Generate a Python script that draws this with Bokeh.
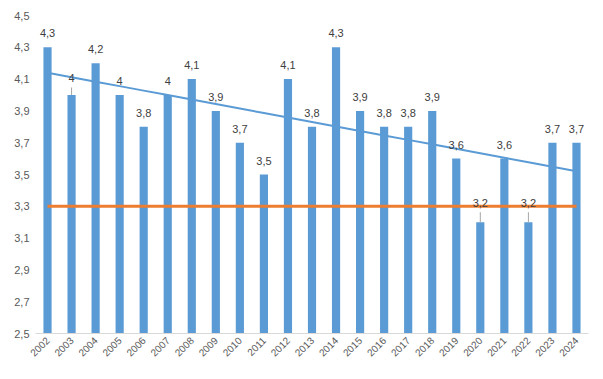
import numpy as np
from bokeh.plotting import figure
from bokeh.models import FactorRange, Range1d, FixedTicker, ColumnDataSource
from bokeh.core.properties import value
from bokeh.embed import file_html
from bokeh.resources import INLINE

# ---- data ----
years = ["2002", "2003", "2004", "2005", "2006", "2007", "2008", "2009", "2010",
         "2011", "2012", "2013", "2014", "2015", "2016", "2017", "2018", "2019",
         "2020", "2021", "2022", "2023", "2024"]
values = [4.3, 4.0, 4.2, 4.0, 3.8, 4.0, 4.1, 3.9, 3.7, 3.5, 4.1, 3.8, 4.3,
          3.9, 3.8, 3.8, 3.9, 3.6, 3.2, 3.6, 3.2, 3.7, 3.7]
reference_level = 3.3
y_ticks = [2.5, 2.7, 2.9, 3.1, 3.3, 3.5, 3.7, 3.9, 4.1, 4.3, 4.5]
y_tick_labels = ["2,5", "2,7", "2,9", "3,1", "3,3", "3,5", "3,7", "3,9", "4,1", "4,3", "4,5"]

# linear trend of the series
idx = np.arange(len(values))
slope, intercept = np.polyfit(idx, values, 1)
trend = list(intercept + slope * idx)

labels = [f"{v:g}".replace(".", ",") for v in values]

# label nudges (pixels) for labels moved away from their bars
nudged = {"2003": 17, "2020": 19, "2022": 19}
label_offsets = [-nudged.get(y, 14) for y in years]

BAR = "#5B9BD5"
ORANGE = "#ED7D31"
FONT = "Liberation Sans"

frame_h = 318
ymin, ymax = 2.5, 4.5
ppu = frame_h / (ymax - ymin)

p = figure(x_range=FactorRange(*years), y_range=Range1d(ymin, ymax),
           width=603, height=379,
           output_backend="svg", toolbar_location=None,
           min_border_left=35, min_border_right=15, min_border_top=15,
           min_border_bottom=46)
p.outline_line_color = None
p.xgrid.grid_line_color = None
p.ygrid.grid_line_color = None

p.vbar(x=years, top=values, bottom=ymin, width=0.34, color=BAR, line_color=None)

# leader lines for moved labels
lead_x, lead_y0, lead_y1 = [], [], []
leader_px = {"2003": 7.5, "2020": 10, "2022": 10}
for y, v in zip(years, values):
    if y in leader_px:
        lead_x.append(y)
        lead_y0.append(v)
        lead_y1.append(v + leader_px[y] / ppu)
p.segment(x0=lead_x, y0=lead_y0, x1=lead_x, y1=lead_y1, line_color="#A6A6A6", line_width=1)

p.line(x=years, y=[reference_level] * len(years), line_color=ORANGE, line_width=3)
p.line(x=years, y=trend, line_color=BAR, line_width=2)

src = ColumnDataSource(dict(x=years, y=values, t=labels, off=label_offsets))
p.text(x="x", y="y", text="t", source=src, y_offset="off",
       text_align="center", text_baseline="middle",
       text_font=value(FONT), text_font_size="11px", text_color="#404040")

# axes
p.yaxis.ticker = FixedTicker(ticks=y_ticks)
p.yaxis.major_label_overrides = {t: l for t, l in zip(y_ticks, y_tick_labels)}
p.yaxis.axis_line_color = None
p.yaxis.major_tick_line_color = None
p.yaxis.minor_tick_line_color = None
p.yaxis.major_tick_out = 0
p.yaxis.major_label_standoff = 6
p.yaxis.major_label_text_font = FONT
p.yaxis.major_label_text_font_size = "11px"
p.yaxis.major_label_text_color = "#595959"

p.xaxis.axis_line_color = "#D9D9D9"
p.xaxis.axis_line_width = 1
p.xaxis.major_tick_line_color = None
p.xaxis.major_tick_out = 0
p.xaxis.major_label_orientation = np.pi / 4
p.xaxis.major_label_standoff = 5
p.xaxis.major_label_text_font = FONT
p.xaxis.major_label_text_font_size = "10px"
p.xaxis.major_label_text_color = "#595959"

open("out.html", "w").write(file_html(p, INLINE))
